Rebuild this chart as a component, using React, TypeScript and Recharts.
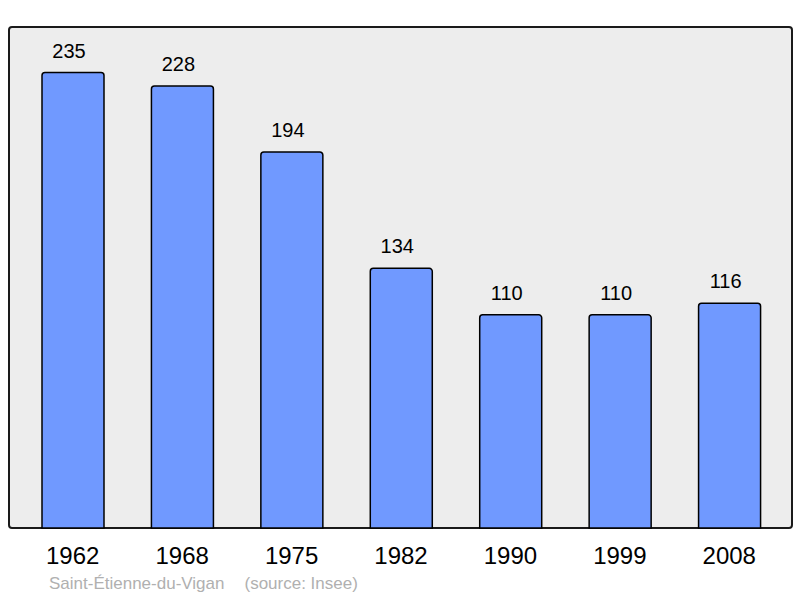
import { BarChart, Bar, XAxis, YAxis, LabelList } from "recharts";

const years = ["1962", "1968", "1975", "1982", "1990", "1999", "2008"];
const population = [235, 228, 194, 134, 110, 110, 116];
const place = "Saint-Étienne-du-Vigan";
const source = "(source: Insee)";

const data = years.map((year, i) => ({ year, value: population[i] }));
const yMax = Math.max(...population) * 1.1;

const font = "'Liberation Sans', Arial, sans-serif";

export default function App() {
  return (
    <div style={{ position: "absolute", left: 0, top: 0, width: 800, height: 598, background: "#fff", fontFamily: font }}>
      <div
        style={{
          position: "absolute",
          left: 8,
          top: 26,
          width: 785,
          height: 503,
          boxSizing: "border-box",
          border: "2px solid #1a1a1a",
          borderRadius: 4,
          background: "#ededed",
        }}
      />
      <div style={{ position: "absolute", left: 0, top: 0 }}>
        <BarChart width={800} height={598} data={data} margin={{ top: 27, right: 8, bottom: 40, left: 9 }}>
          <XAxis
            dataKey="year"
            height={30}
            axisLine={false}
            tickLine={false}
            tickSize={0}
            tickMargin={19}
            padding={{ left: 9, right: 8 }}
            tick={{ fontSize: 24, fill: "#000", fontFamily: font }}
            interval={0}
          />
          <YAxis hide width={0} domain={[0, yMax]} />
          <Bar
            dataKey="value"
            barSize={62}
            fill="#7099ff"
            stroke="#000"
            strokeWidth={1.5}
            radius={[3, 3, 0, 0]}
            isAnimationActive={false}
          >
            <LabelList dataKey="value" position="top" offset={15} dx={-4} fontSize={20} fill="#000" fontFamily={font} />
          </Bar>
        </BarChart>
      </div>
      <div style={{ position: "absolute", left: 49, top: 574, fontSize: 17, lineHeight: "20px", color: "#b0b0b0", whiteSpace: "pre" }}>
        <span>{place}</span>
        <span style={{ marginLeft: 20 }}>{source}</span>
      </div>
    </div>
  );
}
